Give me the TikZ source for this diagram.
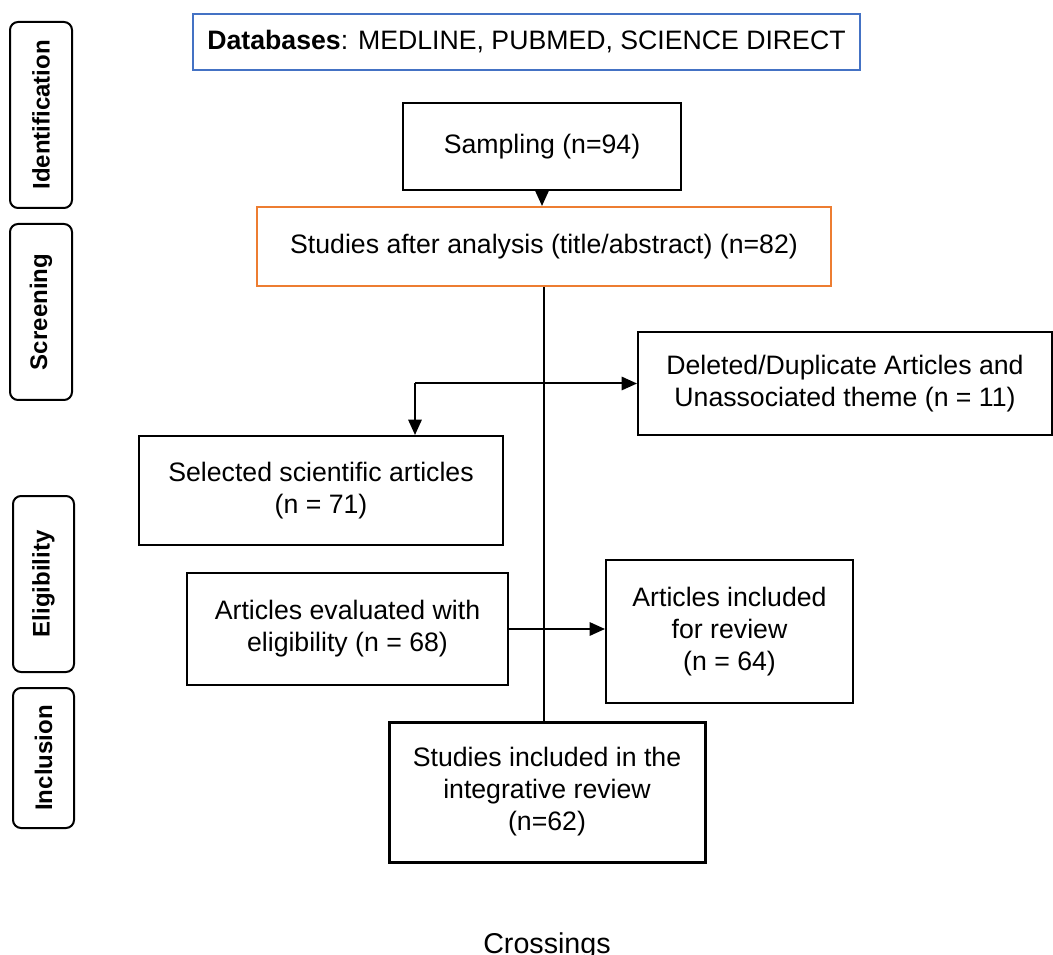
\documentclass[tikz,border=0pt]{standalone}
\usepackage{fontspec}
\setmainfont{Liberation Sans}
\usetikzlibrary{arrows.meta}
\definecolor{dbblue}{HTML}{4472C4}
\definecolor{scorange}{HTML}{ED7D31}
\begin{document}
\begin{tikzpicture}[x=.75pt,y=-.75pt,line width=1.5pt,
  >={Triangle[length=11.5pt,width=10pt]},
  font=\fontsize{20}{24}\selectfont,
  box/.style={draw,align=center,inner sep=0pt},
  phase/.style={draw,rounded corners=6pt,rotate=90,inner sep=0pt,
    font=\bfseries\fontsize{18}{22}\selectfont}]
  \useasboundingbox (0,0) rectangle (1053,955);
  % phases on the left
  \foreach \name/\cx/\cy/\bw/\bh/\txt in {ident/41/115/46.5/139.5/Identification,
      screen/41/312/46.5/132/Screening,
      elig/43.5/584/45.75/132/Eligibility,
      incl/43.5/758/45.75/105/Inclusion}{
    \node[phase,minimum width=\bh pt,minimum height=\bw pt] (\name) at (\cx,\cy) {\txt};
  }
  % flow boxes
  \node[box,draw=dbblue,minimum width=500.25pt,minimum height=42pt] (db) at (526.5,42)
    {\textbf{Databases}: MEDLINE, PUBMED, SCIENCE DIRECT};
  \node[box,minimum width=208.5pt,minimum height=65.25pt] (sampling) at (542,146.5)
    {Sampling (n=94)};
  \node[box,draw=scorange,minimum width=430.5pt,minimum height=59.25pt] (analysis) at (544,246.5)
    {Studies after analysis (title/abstract) (n=82)};
  \node[box,minimum width=310.5pt,minimum height=77.25pt] (deleted) at (845,383.5)
    {Deleted/Duplicate Articles and\\Unassociated theme (n = 11)};
  \node[box,minimum width=273pt,minimum height=81.75pt] (selected) at (321,490.5)
    {Selected scientific articles\\(n = 71)};
  \node[box,minimum width=240.75pt,minimum height=84pt] (evaluated) at (347.5,629)
    {Articles evaluated with\\eligibility (n = 68)};
  \node[box,minimum width=185.25pt,minimum height=107.25pt] (review) at (729.5,631.5)
    {Articles included\\for review\\(n = 64)};
  \node[box,line width=2.25pt,minimum width=237pt,minimum height=105pt] (final) at (547,792)
    {Studies included in the\\integrative review\\(n=62)};
  \node[anchor=base,font=\fontsize{21.5}{26}\selectfont] (crossings) at (547,953) {Crossings};
  % connectors
  \coordinate (split) at (415,383.5);
  \draw[line width=1.1pt] (analysis.south) -- (analysis.south |- final.north);
  \draw[->] (sampling.south) -- (sampling.south |- analysis.north);
  \draw[->] (split) -- (deleted.west);
  \draw[->] (split) -- (split |- selected.north);
  \draw[->] (evaluated.east) -- (evaluated.east -| review.west);
\end{tikzpicture}
\end{document}
